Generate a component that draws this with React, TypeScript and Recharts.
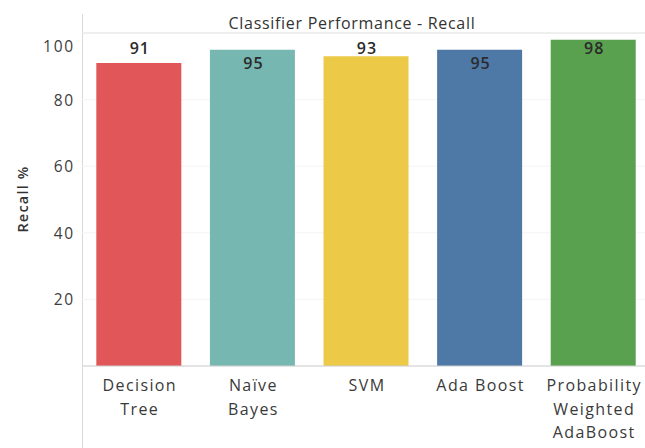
import React from "react";
import { BarChart, Bar, XAxis, YAxis, CartesianGrid, Cell, LabelList, ReferenceLine } from "recharts";

const categories = ["Decision Tree", "Naïve Bayes", "SVM", "Ada Boost", "Probability Weighted AdaBoost"];
const recall = [91, 95, 93, 95, 98];
const tickLines = [["Decision", "Tree"], ["Naïve", "Bayes"], ["SVM"], ["Ada Boost"], ["Probability", "Weighted", "AdaBoost"]];
const yTicks = [20, 40, 60, 80, 100];
const colors = ["#e15759", "#76b7b2", "#edc948", "#4e79a7", "#59a14f"];
const title = "Classifier Performance - Recall";
const yLabel = "Recall %";

const labelDy = [-15, 13, -8, 13, 8];
const FONT = "'Open Sans', sans-serif";

const data = categories.map((c, i) => ({ name: c, recall: recall[i] }));

const XTick = (props: any) => {
  const { x, y, payload } = props;
  const idx = categories.indexOf(payload.value);
  const lines = tickLines[idx] || [payload.value];
  return (
    <text x={x} y={y + 19} textAnchor="middle" dominantBaseline="central" fill="#3a3a3a" fontSize={16} fontWeight={500} fontFamily={FONT} letterSpacing={1.4}>
      {lines.map((l, i) => (
        <tspan key={i} x={x + 1} dy={i === 0 ? 0 : 23.5}>{l}</tspan>
      ))}
    </text>
  );
};

const YTick = (props: any) => {
  const { x, y, payload } = props;
  const shift = payload.value === 100 ? 13 : 0;
  return (
    <text x={x + 1} y={y + shift} textAnchor="end" dominantBaseline="central" fill="#3d3d3d" fontSize={15.5} fontWeight={500} fontFamily={FONT} letterSpacing={1.8}>
      {payload.value}
    </text>
  );
};

const ValueLabel = (props: any) => {
  const { x, y, width, value, index } = props;
  return (
    <text x={x + width / 2 + 1} y={y + labelDy[index]} textAnchor="middle" dominantBaseline="central" fill="#2b2b2b" fontSize={16} fontWeight={600} fontFamily={FONT} letterSpacing={1}>
      {value}
    </text>
  );
};

const YLabel = () => (
  <text x={22} y={199} transform="rotate(-90, 22, 199)" textAnchor="middle" dominantBaseline="central" fill="#333" fontSize={14.5} fontWeight={600} fontFamily={FONT} letterSpacing={1.2}>
    {yLabel}
  </text>
);

export default function App() {
  return (
    <div style={{ position: "absolute", left: 0, top: 0, width: 645, height: 448, overflow: "hidden", background: "#fff" }}>
      <div style={{ position: "absolute", left: 82, top: 14, width: 1, height: 434, background: "#d9d9d9" }} />
      <div style={{ position: "absolute", left: 152, width: 400, top: 11, textAlign: "center", fontFamily: FONT, fontSize: 16, fontWeight: 500, color: "#333", letterSpacing: 0.7, lineHeight: "24px" }}>
        {title}
      </div>
      <BarChart width={650} height={448} data={data} margin={{ top: 33, right: 0, bottom: 0, left: 0 }} barCategoryGap="12.6%">
        <CartesianGrid vertical={false} stroke="#f4f4f4" />
        <ReferenceLine y={100} stroke="#e4e4e4" />
        <XAxis dataKey="name" interval={0} height={82} tickLine={false} tickSize={0} tickMargin={0} axisLine={{ stroke: "#cfcfcf" }} tick={<XTick />} />
        <YAxis width={82} domain={[0, 100]} ticks={yTicks} tickLine={false} tickSize={0} tickMargin={8} axisLine={false} tick={<YTick />} label={<YLabel />} />
        <Bar dataKey="recall" isAnimationActive={false}>
          {data.map((d, i) => (
            <Cell key={i} fill={colors[i]} />
          ))}
          <LabelList dataKey="recall" content={<ValueLabel />} />
        </Bar>
      </BarChart>
    </div>
  );
}
